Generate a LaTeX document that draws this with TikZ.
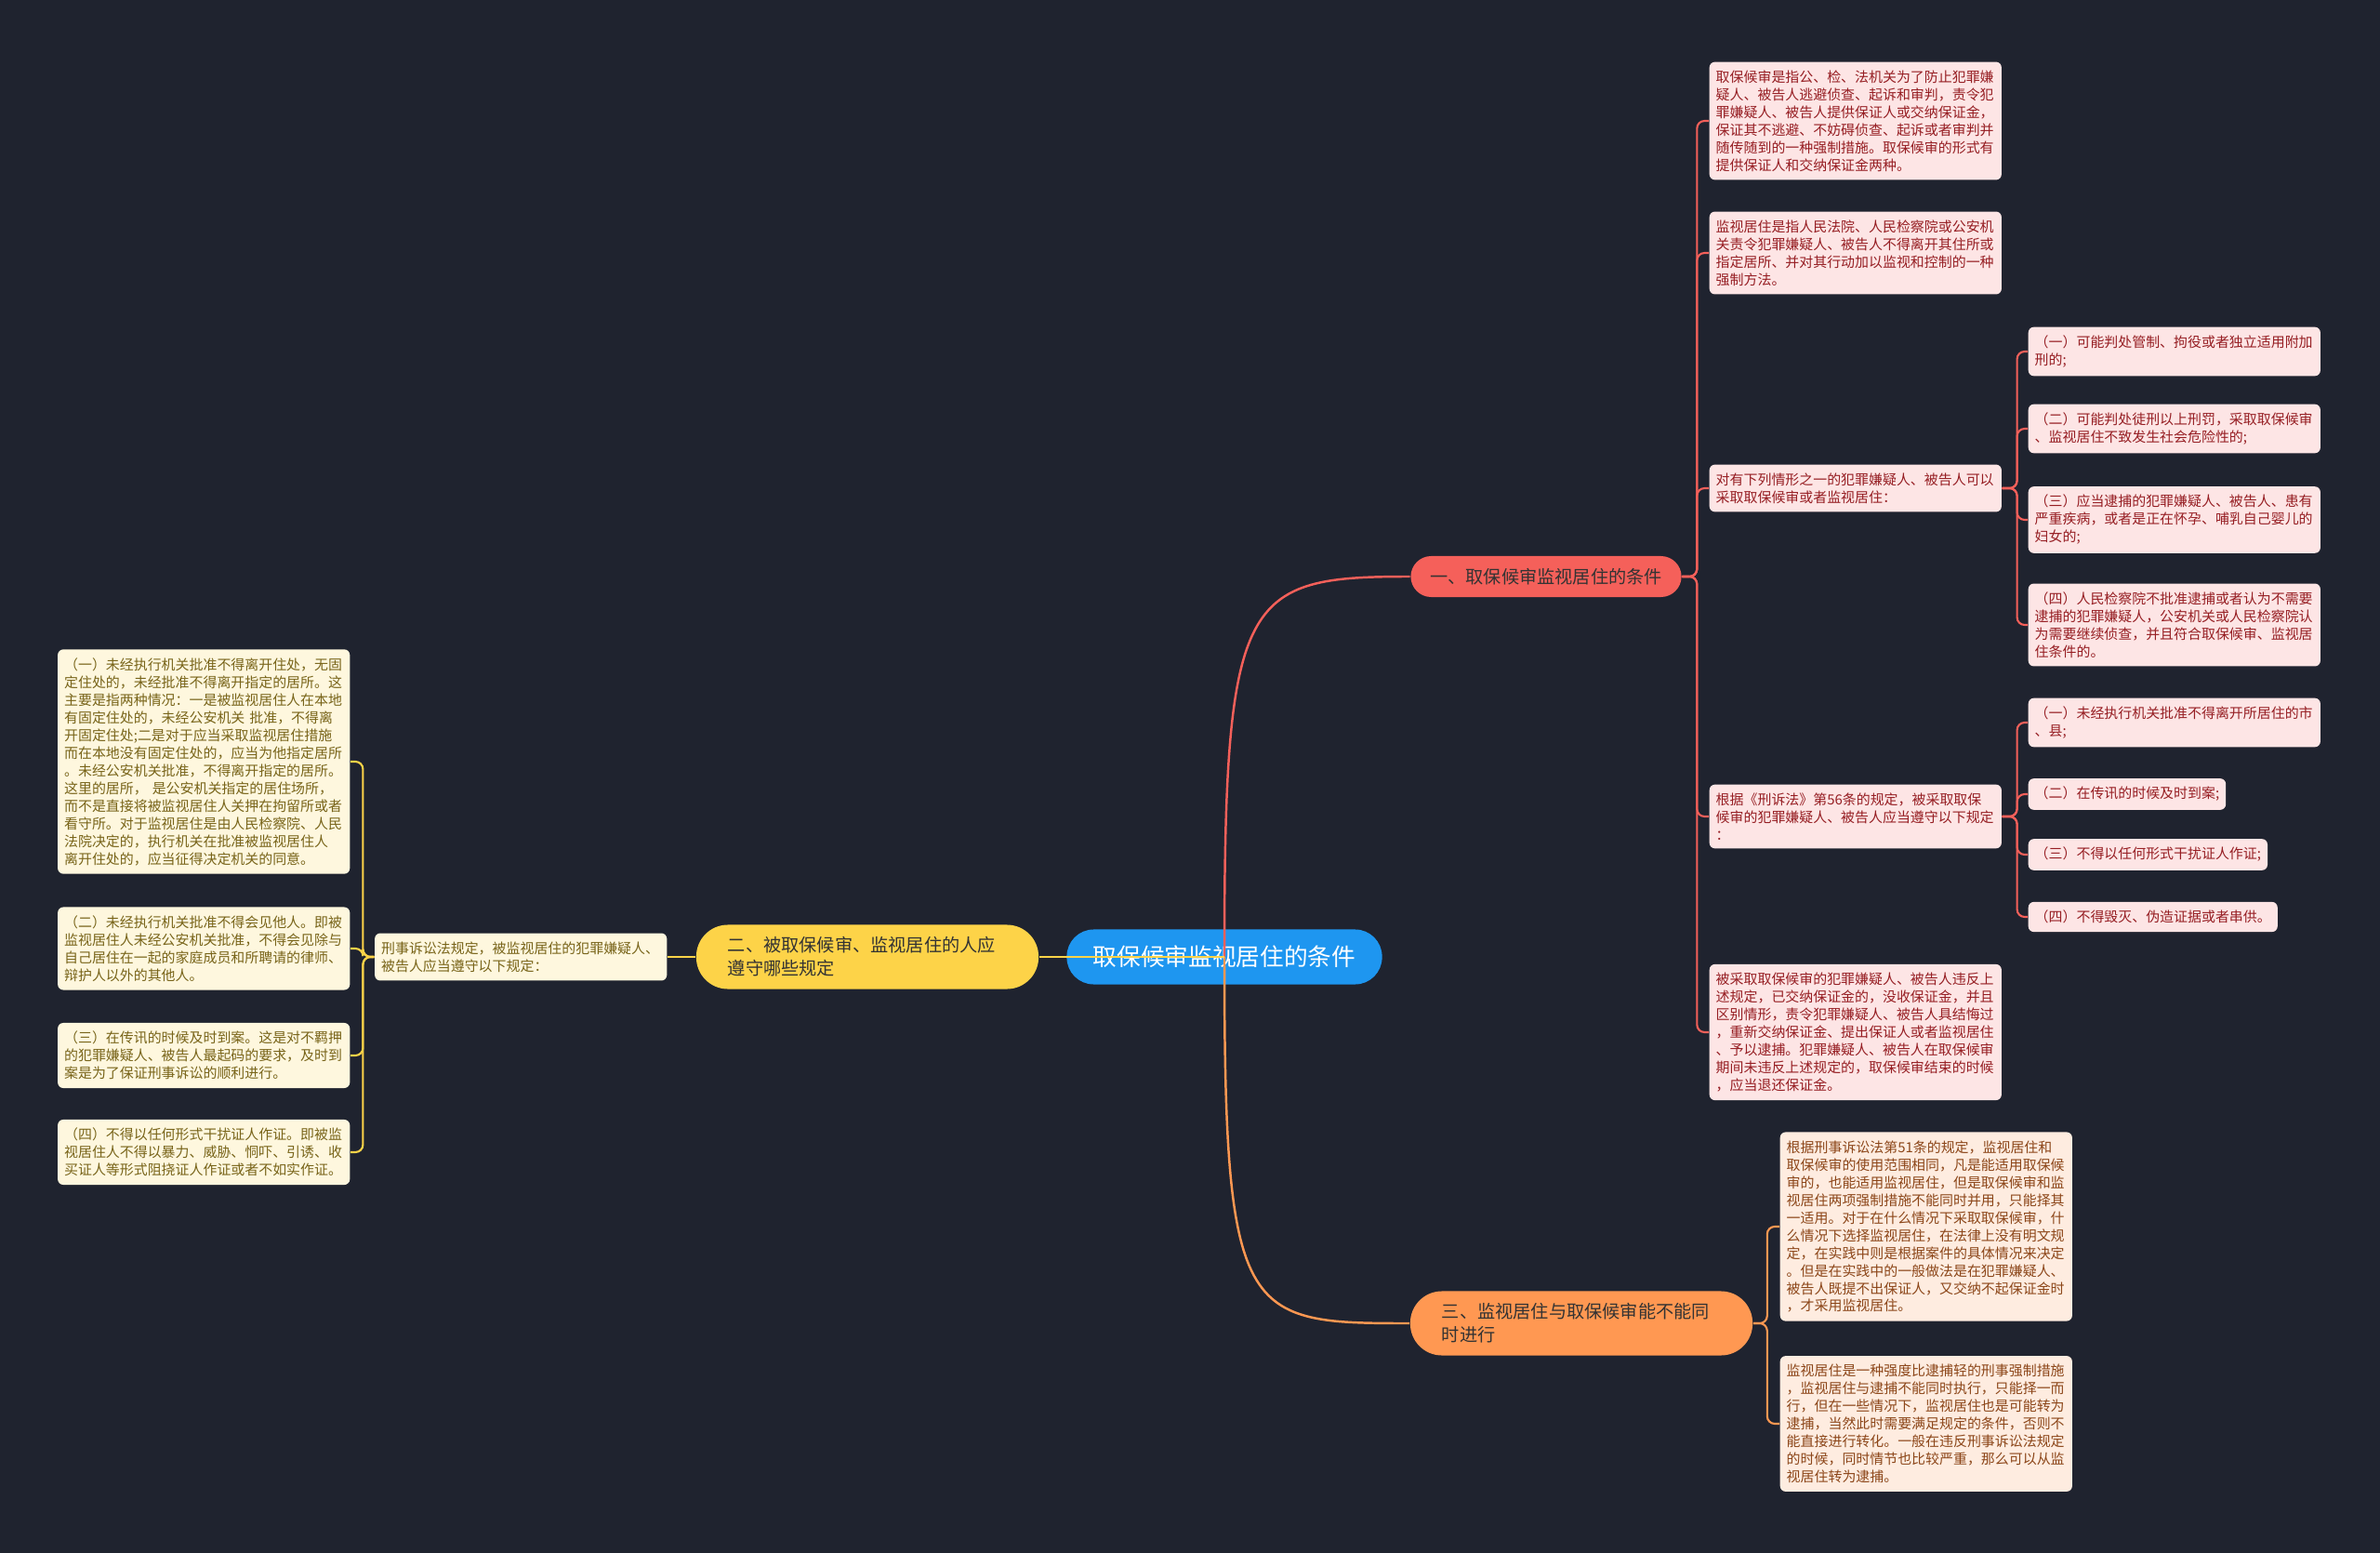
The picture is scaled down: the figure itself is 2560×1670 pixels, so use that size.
\documentclass[tikz,border=0pt]{standalone}
\usepackage{fontspec}
\setmainfont{Noto Sans CJK SC}
\usepackage{tikz}
\usetikzlibrary{positioning}
\usepackage{xcolor}
\definecolor{bgdark}{RGB}{31,35,47}
\definecolor{rootblue}{RGB}{30,150,240}
\definecolor{condred}{RGB}{245,96,90}
\definecolor{ruleyellow}{RGB}{253,211,72}
\definecolor{bothorange}{RGB}{255,152,82}
\definecolor{leafred}{RGB}{253,229,229}
\definecolor{inkred}{RGB}{150,30,35}
\definecolor{leafyellow}{RGB}{254,247,222}
\definecolor{inkolive}{RGB}{120,100,25}
\definecolor{leaforange}{RGB}{254,236,224}
\definecolor{inkbrown}{RGB}{140,70,25}

\begin{document}
\begin{tikzpicture}[x=0.01cm, y=-0.01cm,
  pill/.style={rounded corners=#1, inner sep=0pt},
  branch/.style={align=left, text width=3.0cm, inner xsep=0.34cm, minimum height=0.69cm,
    rounded corners=0.34cm, font=\fontsize{5.46}{7.1}\selectfont, text=black!80},
  leaf/.style={anchor=west, align=left, rounded corners=1.7pt, inner xsep=0.07cm,
    inner ysep=0.09cm, font=\fontsize{4.25}{5.4}\selectfont},
  wide/.style={text width=3.0cm},
  redleaf/.style={leaf, fill=leafred, text=inkred},
  yellowleaf/.style={leaf, fill=leafyellow, text=inkolive},
  orangeleaf/.style={leaf, fill=leaforange, text=inkbrown},
  redline/.style={draw=condred, line width=0.6pt, rounded corners=2.3pt},
  yellowline/.style={draw=ruleyellow, line width=0.6pt, rounded corners=2.3pt},
  orangeline/.style={draw=bothorange, line width=0.6pt, rounded corners=2.3pt}]

  % Background
  \fill[bgdark] (0,0) rectangle (2560,1670);
  \useasboundingbox (0,0) rectangle (2560,1670);

  % Root and main branches
  \node[fill=rootblue, text=white, minimum width=3.39cm, minimum height=0.59cm,
    rounded corners=0.29cm, font=\fontsize{7.3}{8.5}\selectfont] (root) at (1317,1029)
    {取保候审监视居住的条件};
  \node[fill=condred, text=black!80, minimum width=2.91cm, minimum height=0.44cm,
    rounded corners=0.22cm, font=\fontsize{5.46}{7.1}\selectfont] (B1) at (1663,620)
    {一、取保候审监视居住的条件};
  \node[branch, fill=ruleyellow] (B2) at (933,1029)
    {二、被取保候审、监视居住的人应\\遵守哪些规定};
  \node[branch, fill=bothorange] (B3) at (1701,1423)
    {三、监视居住与取保候审能不能同\\时进行};

  % Branch one: conditions
  \node[redleaf, wide] (R1) at (1838,130)
    {取保候审是指公、检、法机关为了防止犯罪嫌\\疑人、被告人逃避侦查、起诉和审判，责令犯\\罪嫌疑人、被告人提供保证人或交纳保证金，\\保证其不逃避、不妨碍侦查、起诉或者审判并\\随传随到的一种强制措施。取保候审的形式有\\提供保证人和交纳保证金两种。};
  \node[redleaf, wide] (R2) at (1838,272)
    {监视居住是指人民法院、人民检察院或公安机\\关责令犯罪嫌疑人、被告人不得离开其住所或\\指定居所、并对其行动加以监视和控制的一种\\强制方法。};
  \node[redleaf, wide] (R3) at (1838,525)
    {对有下列情形之一的犯罪嫌疑人、被告人可以\\采取取保候审或者监视居住：};
  \node[redleaf, wide] (R4) at (1838,878)
    {根据《刑诉法》第56条的规定，被采取取保\\候审的犯罪嫌疑人、被告人应当遵守以下规定\\：};
  \node[redleaf, wide] (R5) at (1838,1110)
    {被采取取保候审的犯罪嫌疑人、被告人违反上\\述规定，已交纳保证金的，没收保证金，并且\\区别情形，责令犯罪嫌疑人、被告人具结悔过\\，重新交纳保证金、提出保证人或者监视居住\\、予以逮捕。犯罪嫌疑人、被告人在取保候审\\期间未违反上述规定的，取保候审结束的时候\\，应当退还保证金。};

  % Cases under R3
  \node[redleaf, wide] (R3a) at (2181,378)
    {（一）可能判处管制、拘役或者独立适用附加\\刑的;};
  \node[redleaf, wide] (R3b) at (2181,461)
    {（二）可能判处徒刑以上刑罚，采取取保候审\\、监视居住不致发生社会危险性的;};
  \node[redleaf, wide] (R3c) at (2181,559)
    {（三）应当逮捕的犯罪嫌疑人、被告人、患有\\严重疾病，或者是正在怀孕、哺乳自己婴儿的\\妇女的;};
  \node[redleaf, wide] (R3d) at (2181,672)
    {（四）人民检察院不批准逮捕或者认为不需要\\逮捕的犯罪嫌疑人，公安机关或人民检察院认\\为需要继续侦查，并且符合取保候审、监视居\\住条件的。};

  % Rules under R4
  \node[redleaf, wide] (R4a) at (2181,777)
    {（一）未经执行机关批准不得离开所居住的市\\、县;};
  \node[redleaf] (R4b) at (2181,854) {（二）在传讯的时候及时到案;};
  \node[redleaf] (R4c) at (2181,919) {（三）不得以任何形式干扰证人作证;};
  \node[redleaf] (R4d) at (2181,986) {（四）不得毁灭、伪造证据或者串供。};

  % Branch two: rules
  \node[yellowleaf, wide, anchor=east] (Y0) at (718,1029)
    {刑事诉讼法规定，被监视居住的犯罪嫌疑人、\\被告人应当遵守以下规定：};
  \node[yellowleaf, wide, anchor=east] (L1) at (377,819)
    {（一）未经执行机关批准不得离开住处，无固\\定住处的，未经批准不得离开指定的居所。这\\主要是指两种情况：一是被监视居住人在本地\\有固定住处的，未经公安机关 批准，不得离\\开固定住处;二是对于应当采取监视居住措施\\而在本地没有固定住处的，应当为他指定居所\\。未经公安机关批准，不得离开指定的居所。\\这里的居所， 是公安机关指定的居住场所，\\而不是直接将被监视居住人关押在拘留所或者\\看守所。对于监视居住是由人民检察院、人民\\法院决定的，执行机关在批准被监视居住人\\离开住处的，应当征得决定机关的同意。};
  \node[yellowleaf, wide, anchor=east] (L2) at (377,1020)
    {（二）未经执行机关批准不得会见他人。即被\\监视居住人未经公安机关批准，不得会见除与\\自己居住在一起的家庭成员和所聘请的律师、\\辩护人以外的其他人。};
  \node[yellowleaf, wide, anchor=east] (L3) at (377,1135)
    {（三）在传讯的时候及时到案。这是对不羁押\\的犯罪嫌疑人、被告人最起码的要求，及时到\\案是为了保证刑事诉讼的顺利进行。};
  \node[yellowleaf, wide, anchor=east] (L4) at (377,1239)
    {（四）不得以任何形式干扰证人作证。即被监\\视居住人不得以暴力、威胁、恫吓、引诱、收\\买证人等形式阻挠证人作证或者不如实作证。};

  % Branch three: both at once
  \node[orangeleaf, wide] (O1) at (1914,1319)
    {根据刑事诉讼法第51条的规定，监视居住和\\取保候审的使用范围相同，凡是能适用取保候\\审的，也能适用监视居住，但是取保候审和监\\视居住两项强制措施不能同时并用，只能择其\\一适用。对于在什么情况下采取取保候审，什\\么情况下选择监视居住，在法律上没有明文规\\定，在实践中则是根据案件的具体情况来决定\\。但是在实践中的一般做法是在犯罪嫌疑人、\\被告人既提不出保证人，又交纳不起保证金时\\，才采用监视居住。};
  \node[orangeleaf, wide] (O2) at (1914,1531)
    {监视居住是一种强度比逮捕轻的刑事强制措施\\，监视居住与逮捕不能同时执行，只能择一而\\行，但在一些情况下，监视居住也是可能转为\\逮捕，当然此时需要满足规定的条件，否则不\\能直接进行转化。一般在违反刑事诉讼法规定\\的时候，同时情节也比较严重，那么可以从监\\视居住转为逮捕。};

  % Connectors from the root
  \draw[redline, line width=0.7pt] (root.center) .. controls +(0,-390) and +(-180,0) .. (B1.west);
  \draw[orangeline, line width=0.7pt] (root.center) .. controls +(0,390) and +(-180,0) .. (B3.west);
  \draw[yellowline, line width=0.7pt] (root.center) -- (B2.east);

  % Connectors to the leaves
  \foreach \n in {R1,R2,R3,R4,R5}
    \draw[redline] (B1.east) -- ++(16,0) |- (\n.west);
  \foreach \n in {R3a,R3b,R3c,R3d}
    \draw[redline] (R3.east) -- ++(16,0) |- (\n.west);
  \foreach \n in {R4a,R4b,R4c,R4d}
    \draw[redline] (R4.east) -- ++(16,0) |- (\n.west);
  \draw[yellowline] (B2.west) -- (Y0.east);
  \foreach \n in {L1,L2,L3,L4}
    \draw[yellowline] (Y0.west) -- ++(-12,0) |- (\n.east);
  \foreach \n in {O1,O2}
    \draw[orangeline] (B3.east) -- ++(15,0) |- (\n.west);
\end{tikzpicture}
\end{document}
